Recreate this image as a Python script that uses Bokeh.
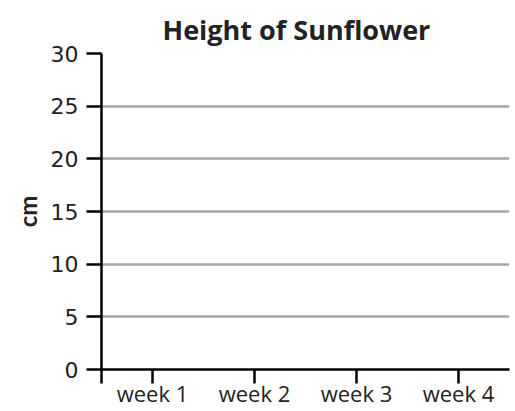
from bokeh.plotting import figure
from bokeh.models import Range1d, FixedTicker
from bokeh.embed import file_html
from bokeh.resources import INLINE

# ---- data ----
categories = ["week 1", "week 2", "week 3", "week 4"]
y_ticks = [0, 5, 10, 15, 20, 25, 30]
y_max = 30
title_text = "Height of Sunflower"
y_label = "cm"

p = figure(width=510, height=410, output_backend="svg", toolbar_location=None,
           x_range=Range1d(0, len(categories)), y_range=Range1d(0, y_max),
           min_border_left=101, min_border_right=1, min_border_top=53,
           min_border_bottom=39, title=title_text)

p.outline_line_color = None
p.background_fill_color = "white"
p.border_fill_color = "white"

# title
p.title.text_font = "Open Sans"
p.title.text_font_size = "27px"
p.title.text_font_style = "bold"
p.title.text_color = "#222222"
p.title.align = "left"
p.title.offset = 61
p.title.standoff = 11

# x axis: ticks at category centres plus one at the left edge
x_tick_pos = [0] + [i + 0.5 for i in range(len(categories))]
p.xaxis.ticker = FixedTicker(ticks=x_tick_pos)
overrides = {0: ""}
for i, c in enumerate(categories):
    overrides[i + 0.5] = c
p.xaxis.major_label_overrides = overrides
p.xaxis.axis_line_color = "black"
p.xaxis.axis_line_width = 2.5
p.xaxis.major_tick_line_color = "black"
p.xaxis.major_tick_line_width = 2.5
p.xaxis.major_tick_out = 14
p.xaxis.major_tick_in = 0
p.xaxis.minor_tick_line_color = None
p.xaxis.major_label_text_font = "Open Sans"
p.xaxis.major_label_text_font_size = "22px"
p.xaxis.major_label_text_color = "#222222"
p.xaxis.major_label_standoff = -6

# y axis
p.yaxis.ticker = FixedTicker(ticks=y_ticks)
p.yaxis.axis_line_color = "black"
p.yaxis.axis_line_width = 2.5
p.yaxis.major_tick_line_color = "black"
p.yaxis.major_tick_line_width = 2.5
p.yaxis.major_tick_out = 15
p.yaxis.major_tick_in = 0
p.yaxis.minor_tick_line_color = None
p.yaxis.major_label_text_font = "DejaVu Sans"
p.yaxis.major_label_text_font_size = "22px"
p.yaxis.major_label_text_color = "#222222"
p.yaxis.major_label_standoff = 8
p.yaxis.axis_label = y_label
p.yaxis.axis_label_text_font = "Lato"
p.yaxis.axis_label_text_font_size = "24px"
p.yaxis.axis_label_text_font_style = "bold"
p.yaxis.axis_label_text_color = "#222222"
p.yaxis.axis_label_standoff = 6

# grid
p.xgrid.grid_line_color = None
p.ygrid.ticker = FixedTicker(ticks=y_ticks)
p.ygrid.grid_line_color = "#a8a8a8"
p.ygrid.grid_line_width = 2.5

open("out.html", "w").write(file_html(p, INLINE))
